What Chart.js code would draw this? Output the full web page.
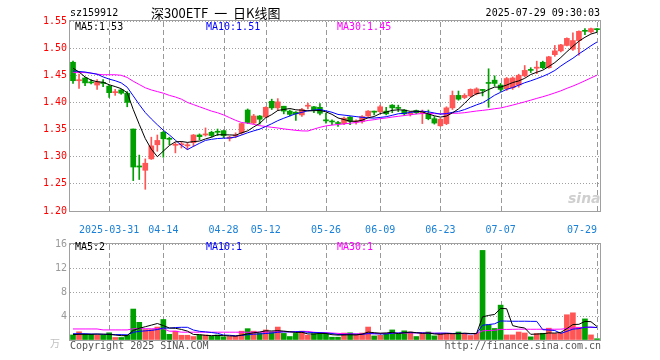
<!DOCTYPE html>
<html>
<head>
<meta charset="utf-8">
<script src="https://cdn.jsdelivr.net/npm/chart.js@4.4.1/dist/chart.umd.min.js"></script>
<style>
  body { margin: 0; width: 660px; height: 360px; overflow: hidden; position: relative; background: #fff; }
  canvas { position: absolute; left: 0; }
  #k { top: 0; }
  #v { top: 235px; }
  .t { position: absolute; font: 10px "DejaVu Sans Mono", monospace; line-height: 12px; white-space: nowrap; }
</style>
</head>
<body>
<canvas id="k" width="660" height="235"></canvas>
<canvas id="v" width="660" height="125"></canvas>

<div class="t" style="left:70px;top:7px;color:#000">sz159912</div>
<div class="t" style="left:151px;top:5px;font:13px 'Noto Sans CJK SC',sans-serif;line-height:16px;color:#000;word-spacing:3px">深300ETF 一 日K线图</div>
<div class="t" style="right:60px;top:7px;color:#000">2025-07-29 09:30:03</div>
<div class="t" style="left:75px;top:21px;color:#000">MA5:1.53</div>
<div class="t" style="left:206px;top:21px;color:#0000ff">MA10:1.51</div>
<div class="t" style="left:337px;top:21px;color:#ff00ff">MA30:1.45</div>
<div class="t" style="left:568px;top:190px;font:italic bold 14px 'DejaVu Sans',sans-serif;color:#cfcfcf">sina</div>
<div class="t" style="left:75px;top:241px;color:#000">MA5:2</div>
<div class="t" style="left:206px;top:241px;color:#0000ff">MA10:1</div>
<div class="t" style="left:337px;top:241px;color:#ff00ff">MA30:1</div>
<div class="t" style="left:50px;top:337px;color:#c0c0c0;font-family:'Noto Sans CJK SC',sans-serif">万</div>
<div class="t" style="left:70px;top:340px;color:#555">Copyright 2025 SINA.COM</div>
<div class="t" style="right:59px;top:340px;color:#555">http://finance.sina.com.cn</div>

<script>
// trading days 2025-03-21 .. 2025-07-29
const dates = [
  '03-21','03-24','03-25','03-26','03-27','03-28','03-31',
  '04-01','04-02','04-03','04-07','04-08','04-09','04-10','04-11','04-14','04-15','04-16','04-17','04-18',
  '04-21','04-22','04-23','04-24','04-25','04-28','04-29','04-30',
  '05-06','05-07','05-08','05-09','05-12','05-13','05-14','05-15','05-16','05-19','05-20','05-21','05-22','05-23',
  '05-26','05-27','05-28','05-29','05-30',
  '06-03','06-04','06-05','06-06','06-09','06-10','06-11','06-12','06-13','06-16','06-17','06-18','06-19','06-20',
  '06-23','06-24','06-25','06-26','06-27','06-30',
  '07-01','07-02','07-03','07-04','07-07','07-08','07-09','07-10','07-11','07-14','07-15','07-16','07-17','07-18',
  '07-21','07-22','07-23','07-24','07-25','07-28','07-29'
];

const opens = [
  1.474,1.440,1.445,1.437,1.432,1.437,1.430,1.418,1.423,1.417,
  1.351,1.283,1.275,1.296,1.322,1.345,1.333,1.321,1.322,1.320,
  1.326,1.340,1.340,1.345,1.346,1.348,1.334,1.338,1.344,1.386,
  1.362,1.375,1.373,1.402,1.390,1.393,1.384,1.382,1.377,1.393,
  1.392,1.391,1.368,1.365,1.363,1.361,1.373,1.364,1.365,1.375,
  1.384,1.383,1.384,1.395,1.390,1.386,1.379,1.385,1.380,1.378,
  1.370,1.357,1.361,1.390,1.413,1.409,1.412,1.416,1.424,1.436,
  1.441,1.432,1.425,1.427,1.432,1.449,1.460,1.463,1.474,1.464,
  1.488,1.495,1.505,1.498,1.514,1.532,1.530,1.535
];
const highs = [
  1.476,1.452,1.446,1.442,1.442,1.442,1.432,1.424,1.424,1.420,
  1.351,1.303,1.296,1.336,1.340,1.347,1.336,1.326,1.328,1.326,
  1.341,1.342,1.353,1.347,1.351,1.348,1.338,1.344,1.362,1.388,
  1.378,1.376,1.392,1.406,1.407,1.393,1.386,1.383,1.389,1.399,
  1.393,1.398,1.380,1.368,1.365,1.373,1.374,1.368,1.376,1.385,
  1.384,1.395,1.391,1.396,1.395,1.387,1.383,1.386,1.386,1.386,
  1.374,1.371,1.392,1.421,1.421,1.416,1.425,1.427,1.424,1.462,
  1.449,1.435,1.446,1.447,1.452,1.468,1.464,1.476,1.476,1.485,
  1.505,1.507,1.519,1.528,1.532,1.536,1.537,1.536
];
const lows = [
  1.435,1.426,1.431,1.434,1.424,1.429,1.409,1.413,1.415,1.392,
  1.256,1.258,1.240,1.295,1.310,1.299,1.322,1.307,1.316,1.313,
  1.319,1.331,1.338,1.336,1.339,1.335,1.329,1.335,1.341,1.361,
  1.360,1.360,1.372,1.387,1.385,1.379,1.375,1.367,1.374,1.388,
  1.381,1.377,1.362,1.359,1.356,1.359,1.359,1.360,1.362,1.374,
  1.377,1.381,1.377,1.381,1.383,1.376,1.375,1.379,1.361,1.368,
  1.360,1.356,1.359,1.387,1.404,1.407,1.410,1.414,1.412,1.391,
  1.430,1.420,1.422,1.424,1.428,1.447,1.455,1.453,1.462,1.463,
  1.485,1.493,1.504,1.496,1.487,1.525,1.528,1.530
];
const closes = [
  1.440,1.441,1.436,1.436,1.438,1.435,1.418,1.419,1.417,1.400,
  1.281,1.281,1.288,1.320,1.330,1.333,1.332,1.322,1.323,1.322,
  1.340,1.337,1.342,1.339,1.345,1.339,1.336,1.339,1.361,1.363,
  1.375,1.369,1.391,1.390,1.401,1.384,1.378,1.379,1.387,1.394,
  1.386,1.380,1.366,1.364,1.361,1.371,1.365,1.365,1.374,1.384,
  1.382,1.392,1.379,1.390,1.389,1.379,1.381,1.381,1.383,1.370,
  1.362,1.369,1.390,1.413,1.406,1.413,1.424,1.425,1.422,1.435,
  1.435,1.424,1.444,1.445,1.450,1.459,1.459,1.465,1.464,1.484,
  1.495,1.506,1.518,1.514,1.531,1.531,1.536,1.534
];
const volumes = [
  0.84,1.37,0.95,0.95,0.79,0.79,1.20,0.42,0.42,0.79,
  5.16,2.95,1.74,1.74,2.16,3.42,0.95,1.47,0.79,0.79,
  0.58,0.84,0.84,0.63,0.84,0.53,0.58,0.63,1.47,1.89,
  1.47,1.16,1.68,1.32,2.16,1.10,0.58,1.10,1.47,0.79,
  1.05,1.05,1.05,0.47,0.47,1.16,1.20,0.90,1.16,2.16,
  0.68,0.79,1.10,1.68,1.00,1.53,1.32,0.58,1.10,1.33,
  0.69,1.07,1.12,1.07,1.33,1.12,0.75,1.12,14.93,2.56,
  1.92,5.81,0.85,0.85,1.33,1.17,0.53,1.07,1.12,1.97,
  1.07,1.12,4.21,4.53,2.13,3.52,0.85,0.21
];

// moving-average values before a full window exists
const ma5Head = [1.463,1.456,1.447,1.441];
const ma10Head = [1.458,1.457,1.456,1.454,1.452,1.447,1.443,1.440,1.436];
const ma30Head = [
  1.455,1.455,1.455,1.454,1.452,1.451,1.451,1.451,1.450,1.446,
  1.439,1.433,1.427,1.423,1.420,1.417,1.413,1.410,1.406,1.400,
  1.396,1.392,1.388,1.384,1.381,1.377,1.372,1.367,1.363
];
const vma5Head = [0.90,0.95,0.95,0.95];
const vma10Head = [1.05,1.05,1.05,1.00,1.00,0.95,0.95,0.90,0.90];
const vma30Head = [
  1.84,1.84,1.84,1.84,1.84,1.68,1.68,1.68,1.68,1.68,
  1.88,1.88,1.88,1.88,1.88,1.88,1.47,1.47,1.30,1.30,
  1.30,1.30,1.30,1.30,1.30,1.30,1.30,1.30,1.30
];

const tickDays = ['03-31','04-14','04-28','05-12','05-26','06-09','06-23','07-07','07-29'];
const tickText = ['2025-03-31','04-14','04-28','05-12','05-26','06-09','06-23','07-07','07-29'];
const priceRange = [1.20, 1.55, 0.05];
const volRange = [0, 16, 4];

const RED = '#ff5555', GREEN = '#00a000';
const GRID = '#a0a0a0';
const MONO = '"DejaVu Sans Mono", monospace';

function movingAvg(arr, n, head) {
  return arr.map((_, i) => {
    if (i < n - 1) return head[i];
    let s = 0;
    for (let j = i - n + 1; j <= i; j++) s += arr[j];
    return s / n;
  });
}

const up = closes.map((c, i) => c >= opens[i]);
const candleColors = up.map(u => (u ? RED : GREEN));
const tickMap = Object.fromEntries(tickDays.map((d, i) => [d, tickText[i]]));

// box round the plot plus dashed day lines at the labelled dates
const frame = {
  id: 'frame',
  beforeDatasetsDraw(chart) {
    const { ctx, chartArea: a, scales } = chart;
    const top = Math.round(a.top), bottom = Math.round(a.bottom);
    ctx.save();
    ctx.setLineDash([]);
    ctx.globalAlpha = 1;
    ctx.fillStyle = '#999999';
    for (const d of tickDays) {
      const x = Math.round(scales.x.getPixelForValue(dates.indexOf(d)));
      for (let y = top + 1; y < bottom; y += 8) {
        ctx.fillRect(x, y, 1, Math.min(5, bottom - y));
      }
    }
    ctx.lineWidth = 1;
    ctx.strokeStyle = GRID;
    ctx.strokeRect(Math.round(a.left) - 0.5, top - 0.5,
                   Math.round(a.right - a.left) + 1, bottom - top + 1);
    ctx.restore();
  }
};

function xAxis(showLabels, height) {
  return {
    type: 'category',
    offset: true,
    grid: { display: false },
    border: { display: false },
    ticks: {
      display: showLabels,
      autoSkip: false,
      maxRotation: 0,
      align: 'inner',
      padding: 5,
      color: '#1a80d8',
      font: { family: MONO, size: 10 },
      callback: (v, i) => tickMap[dates[i]] || '',
    },
    afterFit: s => { s.height = height; },
  };
}

function yAxis(range, color, fmt) {
  return {
    min: range[0], max: range[1],
    grid: { drawTicks: false, lineWidth: 1, color: GRID },
    border: { display: false, dash: [1, 2] },
    ticks: { stepSize: range[2], padding: 3, color, font: { family: MONO, size: 10 }, callback: fmt },
    afterFit: s => { s.width = 70; },
  };
}

function line(data, color) {
  return { type: 'line', data, borderColor: color, borderWidth: 1, pointRadius: 0, tension: 0, order: 0 };
}

new Chart(document.getElementById('k'), {
  type: 'bar',
  data: {
    labels: dates,
    datasets: [
      line(movingAvg(closes, 5, ma5Head), '#000000'),
      line(movingAvg(closes, 10, ma10Head), '#0000ff'),
      line(movingAvg(closes, 30, ma30Head), '#ff00ff'),
      {
        data: opens.map((o, i) => [o, closes[i]]),
        backgroundColor: candleColors,
        barThickness: 5, minBarLength: 1, grouped: false, order: 1,
      },
      {
        data: lows.map((l, i) => [l, highs[i]]),
        backgroundColor: candleColors,
        barThickness: 1, grouped: false, order: 2,
      },
    ],
  },
  options: {
    responsive: false,
    animation: false,
    layout: { padding: { top: 21, right: 60, left: 0, bottom: 0 } },
    plugins: { legend: { display: false }, tooltip: { enabled: false } },
    scales: {
      x: xAxis(true, 24),
      y: yAxis(priceRange, '#ff0000', v => v.toFixed(2)),
    },
  },
  plugins: [frame],
});

new Chart(document.getElementById('v'), {
  type: 'bar',
  data: {
    labels: dates,
    datasets: [
      line(movingAvg(volumes, 5, vma5Head), '#000000'),
      line(movingAvg(volumes, 10, vma10Head), '#0000ff'),
      line(movingAvg(volumes, 30, vma30Head), '#ff00ff'),
      { data: volumes, backgroundColor: candleColors, barThickness: 5, grouped: false, order: 1 },
    ],
  },
  options: {
    responsive: false,
    animation: false,
    layout: { padding: { top: 6, right: 60, left: 0, bottom: 0 } },
    plugins: { legend: { display: false }, tooltip: { enabled: false } },
    scales: {
      x: xAxis(false, 20),
      y: yAxis(volRange, '#999999', v => (v === 0 ? '' : v)),
    },
  },
  plugins: [frame],
});
</script>
</body>
</html>
